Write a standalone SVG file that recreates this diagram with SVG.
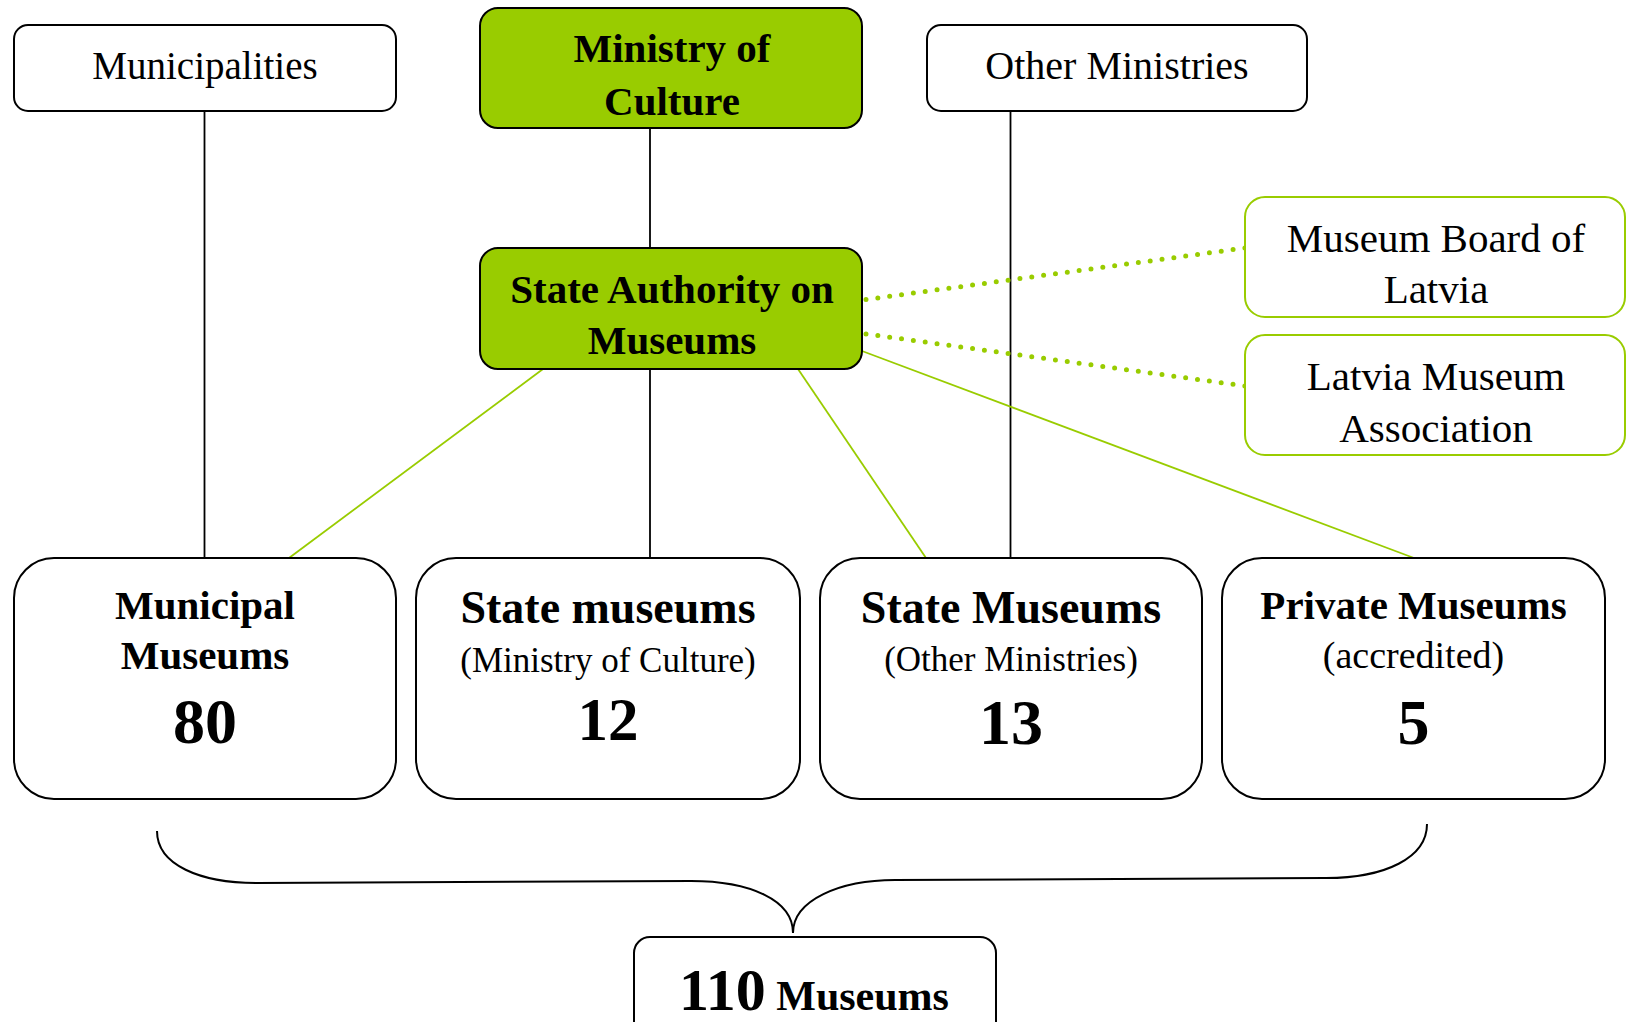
<svg xmlns="http://www.w3.org/2000/svg" width="1628" height="1022" viewBox="0 0 1628 1022">
<style>
.box{fill:#fff;stroke:#000;stroke-width:2}
.gfill{fill:#99CC00;stroke:#000;stroke-width:2}
.gbox{fill:#fff;stroke:#99CC00;stroke-width:2}
.conn{stroke:#000;stroke-width:1.8;fill:none}
.gline{stroke:#99CC00;stroke-width:1.8;fill:none}
.dot{stroke:#99CC00;stroke-width:5;stroke-linecap:round;stroke-dasharray:0 11.95;fill:none}
.brace{stroke:#000;stroke-width:2;fill:none}
text{font-family:"Liberation Serif","Times New Roman",serif;fill:#000;text-anchor:middle}
.b{font-weight:bold}
</style>
<rect width="1628" height="1022" fill="#fff"/>
<g id="connectors">
<line class="conn" x1="204.5" y1="111" x2="204.5" y2="558"/>
<line class="conn" x1="650" y1="128" x2="650" y2="248"/>
<line class="conn" x1="650" y1="369" x2="650" y2="558"/>
<line class="conn" x1="1010.5" y1="111" x2="1010.5" y2="558"/>
<line class="gline" x1="543" y1="369" x2="289" y2="558"/>
<line class="gline" x1="798" y1="369" x2="926" y2="558"/>
<line class="gline" x1="862" y1="351" x2="1414" y2="558"/>
<line class="dot" x1="866" y1="299.5" x2="1245" y2="248"/>
<line class="dot" x1="866" y1="334" x2="1245" y2="386"/>
<path class="brace" d="M157,831 C157,865 200,883 257,883 L691,881 C750,881 793,900 793,933 C793,900 840,880 895,880 L1326,878 C1385,878 1427,858 1427,824"/>
</g>
<g id="municipalities">
<rect class="box" x="14" y="25" width="382" height="86" rx="14"/>
<text x="205" y="79" font-size="39">Municipalities</text>
</g>
<g id="ministry-culture">
<rect class="gfill" x="480" y="8" width="382" height="120" rx="18"/>
<text class="b" x="672" y="62" font-size="41">Ministry of</text>
<text class="b" x="672" y="115" font-size="41">Culture</text>
</g>
<g id="other-ministries">
<rect class="box" x="927" y="25" width="380" height="86" rx="14"/>
<text x="1117" y="79" font-size="40">Other Ministries</text>
</g>
<g id="state-authority">
<rect class="gfill" x="480" y="248" width="382" height="121" rx="18"/>
<text class="b" x="672" y="303" font-size="41">State Authority on</text>
<text class="b" x="672" y="354" font-size="41">Museums</text>
</g>
<g id="museum-board">
<rect class="gbox" x="1245" y="197" width="380" height="120" rx="20"/>
<text x="1436" y="252" font-size="41">Museum Board of</text>
<text x="1436" y="303" font-size="41">Latvia</text>
</g>
<g id="museum-association">
<rect class="gbox" x="1245" y="335" width="380" height="120" rx="20"/>
<text x="1436" y="390" font-size="41">Latvia Museum</text>
<text x="1436" y="442" font-size="41">Association</text>
</g>
<g id="municipal-museums">
<rect class="box" x="14" y="558" width="382" height="241" rx="40"/>
<text class="b" x="205" y="619" font-size="41">Municipal</text>
<text class="b" x="205" y="669" font-size="41">Museums</text>
<text class="b" x="205" y="743" font-size="64">80</text>
</g>
<g id="state-museums-culture">
<rect class="box" x="416" y="558" width="384" height="241" rx="40"/>
<text class="b" x="608" y="623" font-size="46">State museums</text>
<text x="608" y="672" font-size="35">(Ministry of Culture)</text>
<text class="b" x="608" y="740" font-size="61">12</text>
</g>
<g id="state-museums-other">
<rect class="box" x="820" y="558" width="382" height="241" rx="40"/>
<text class="b" x="1011" y="623" font-size="46">State Museums</text>
<text x="1011" y="671" font-size="35">(Other Ministries)</text>
<text class="b" x="1011" y="744" font-size="64">13</text>
</g>
<g id="private-museums">
<rect class="box" x="1222" y="558" width="383" height="241" rx="40"/>
<text class="b" x="1413.5" y="619" font-size="41">Private Museums</text>
<text x="1413.5" y="668" font-size="38">(accredited)</text>
<text class="b" x="1413.5" y="744" font-size="64">5</text>
</g>
<g id="total">
<rect class="box" x="634" y="937" width="362" height="120" rx="16"/>
<text class="b" x="814" y="1010"><tspan font-size="60">110</tspan><tspan font-size="42"> Museums</tspan></text>
</g>
</svg>
